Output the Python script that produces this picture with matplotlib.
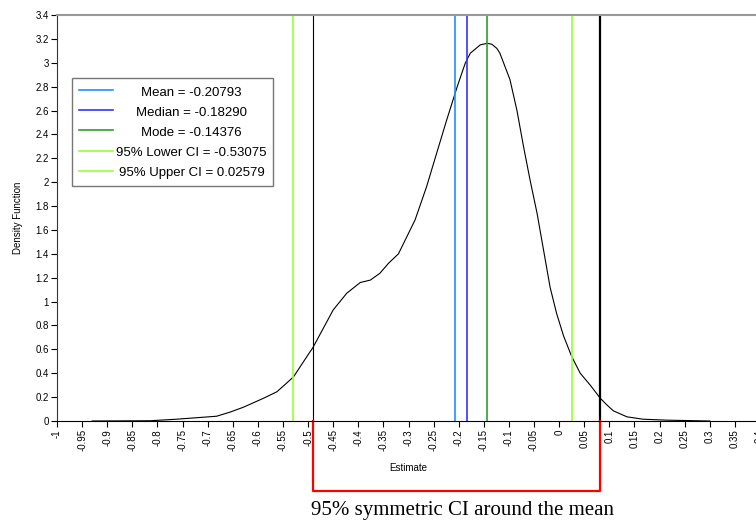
import numpy as np
import matplotlib
matplotlib.use("Agg")
from matplotlib import pyplot as plt
from matplotlib.transforms import blended_transform_factory, Bbox

plt.rcParams['font.family'] = ['Liberation Sans', 'DejaVu Sans']

# density curve
est = [-0.93, -0.815, -0.762, -0.682, -0.655, -0.629, -0.589, -0.562, -0.542, -0.529,
       -0.496, -0.491, -0.45, -0.423, -0.396, -0.376, -0.357, -0.34, -0.32, -0.287,
       -0.264, -0.244, -0.224, -0.203, -0.187, -0.177, -0.157, -0.143, -0.134, -0.124,
       -0.118, -0.098, -0.084, -0.071, -0.058, -0.044, -0.031, -0.018, -0.005, 0.009,
       0.025, 0.042, 0.062, 0.082, 0.095, 0.108, 0.135, 0.167, 0.215, 0.30]
dens = [0.0, 0.002, 0.015, 0.04, 0.075, 0.115, 0.19, 0.245, 0.32, 0.37,
        0.58, 0.61, 0.93, 1.07, 1.16, 1.18, 1.237, 1.32, 1.40, 1.683,
        1.962, 2.242, 2.52, 2.80, 2.996, 3.08, 3.15, 3.163, 3.155, 3.12,
        3.08, 2.86, 2.60, 2.30, 2.02, 1.74, 1.43, 1.12, 0.90, 0.71,
        0.54, 0.40, 0.30, 0.19, 0.135, 0.085, 0.035, 0.015, 0.007, 0.0]

stat_names = ["Mean", "Median", "Mode", "95% Lower CI", "95% Upper CI"]
stat_values = [-0.20793, -0.18290, -0.14376, -0.53075, 0.02579]
stat_colors = ["#1e90ff", "#3333ff", "#339933", "#99ff33", "#99ff33"]

sym_ci = [-0.49, 0.082]  # 95% symmetric CI around the mean

fig = plt.figure(figsize=(7.56, 5.23), dpi=100)
ax = fig.add_axes([57 / 756, 102 / 523, 703 / 756, 406 / 523])

ax.plot(est, dens, color="black", lw=0.8, solid_joinstyle="round")

for name, v, c in zip(stat_names, stat_values, stat_colors):
    ax.axvline(v, color=c, lw=1.2, label="%s = %.5f" % (name, v))

ax.axvline(sym_ci[0], color="black", lw=0.8)
ax.axvline(sym_ci[1], color="black", lw=1.6)

# red bracket under the axis
tr = blended_transform_factory(ax.transData, ax.transAxes)
ax.plot([sym_ci[0], sym_ci[0], sym_ci[1], sym_ci[1]], [0, -0.172, -0.172, 0],
        color="red", lw=1.6, transform=tr, clip_on=False)
fig.text(462 / 756, 1 - 511 / 523, "95% symmetric CI around the mean",
         family=["Liberation Serif", "DejaVu Serif"], fontsize=15,
         ha="center", va="center")

ax.set_xlim(-1, 0.4)
ax.set_ylim(0, 3.4)
xt = np.round(np.arange(-1, 0.401, 0.05), 2)
ax.set_xticks(xt)
ax.set_xticklabels(["%g" % v for v in xt], rotation=90, fontsize=7)
yt = np.round(np.arange(0, 3.401, 0.2), 1)
ax.set_yticks(yt)
ax.set_yticklabels(["%g" % v for v in yt], fontsize=7)
ax.tick_params(axis="both", length=4, width=0.8, pad=2)

ax.set_xlabel("Estimate", fontsize=7, labelpad=8)
ax.set_ylabel("Density Function", fontsize=7, labelpad=9)

ax.spines["top"].set_color("#999999")
ax.spines["top"].set_linewidth(1.5)
ax.spines["right"].set_visible(False)
ax.spines["left"].set_color("#333333")

leg = ax.legend(loc="upper left", bbox_to_anchor=(0.0213, 0.845), fontsize=9.5,
                frameon=True, fancybox=False, edgecolor="#555555",
                handlelength=2.6, handleheight=1.2, labelspacing=0.45,
                borderpad=0.5, handletextpad=0.25, borderaxespad=0)
leg.get_frame().set_linewidth(1.0)

# centre the legend labels in a common column width
for t in leg.get_texts():
    t.set_ha("center")
rows = leg._legend_handle_box.get_children()[0].get_children()
areas = [r.get_children()[1] for r in rows]
origs = [a.get_bbox for a in areas]


def make_bbox(orig):
    def get_bbox(renderer):
        bb = orig(renderer)
        w = max(o(renderer).width for o in origs)
        return Bbox.from_bounds(-w / 2, bb.y0, w, bb.height)
    return get_bbox


for a, o in zip(areas, origs):
    a.get_bbox = make_bbox(o)

fig.savefig("out.png", dpi=100)
